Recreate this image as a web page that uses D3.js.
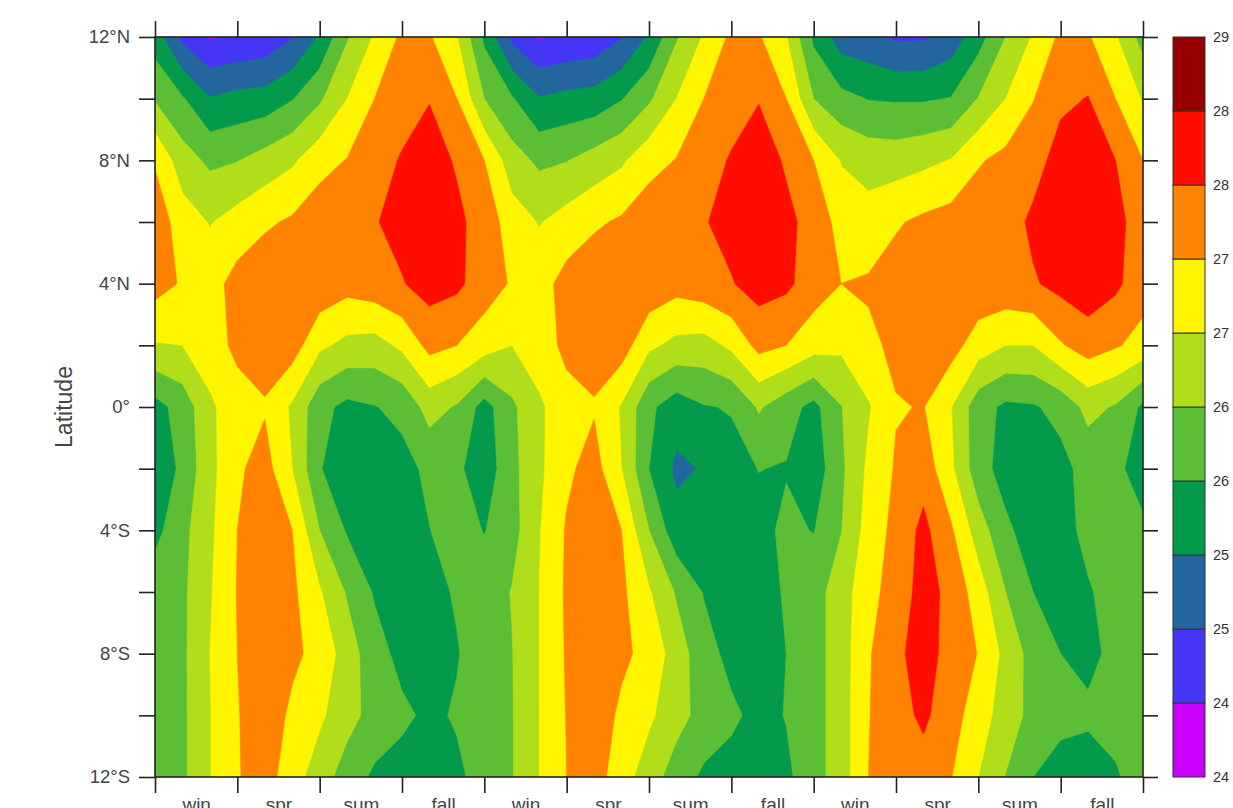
<!DOCTYPE html>
<html><head><meta charset="utf-8">
<script src="https://cdn.jsdelivr.net/npm/d3@7"></script>
<style>
html,body{margin:0;padding:0;background:#fff;}
svg{display:block;}
text{font-family:"Liberation Sans", Arial, sans-serif;}
</style></head><body>
<svg id="chart" width="1233" height="808"></svg>
<script>
// ---------------- DATA ----------------
// latitude rows (12N -> 12S) and monthly columns (0..36, three years)
const latitudes = [12, 10, 8, 6, 4, 2, 0, -2, -4, -6, -8, -10, -12];
const months = [0,1,2,3,4,5,6,7,8,9,10,11,12,13,14,15,16,17,18,19,20,21,22,23,24,25,26,27,28,29,30,31,32,33,34,35,36];
const seasonTicks = [0,3,6,9,12,15,18,21,24,27,30,33,36];
const seasonLabels = ["win","spr","sum","fall","win","spr","sum","fall","win","spr","sum","fall"];
const levels = [24, 24.5, 25, 25.5, 26, 26.5, 27, 27.5, 28, 28.5, 29];
const bandColors = ["#CB00FC","#4536F6","#23669F","#039A4B","#5BBE34","#B1DE1B","#FFF500","#FF8200","#FF0E00","#960000"];

// SST values (deg C) per latitude row, one value per month column
const sst12N = [25.75,24.88,24.45,24.56,24.64,24.97,25.56,26.45,27.05,27.6,27.55,27.02,25.9, 24.88,24.45,24.56,24.64,24.97,25.56,26.45,27.05,27.6,27.55,27.02,25.9, 25.25,25.15,24.92,24.94,25.2,25.8,26.5,27.05,27.6,27.55,27.05,26.3];
const sst10N = [26.45,26.05,25.53,25.65,25.7,25.97,26.42,27.0,27.5,27.75,27.98,27.5,26.5, 26.05,25.53,25.65,25.7,25.97,26.42,27.0,27.5,27.75,27.98,27.5,26.5, 26.15,25.98,25.95,25.95,26.02,26.52,27.0,27.48,27.9,28.02,27.5,26.95];
const sst8N  = [27.45,26.72,26.4,26.48,26.7,26.92,27.32,27.52,27.75,28.05,28.2,27.95,27.5, 26.72,26.4,26.48,26.7,26.92,27.32,27.52,27.75,28.05,28.2,27.95,27.5, 26.97,26.8,26.77,26.88,27.02,27.45,27.64,27.8,28.2,28.25,28.0,27.5];
const sst6N  = [27.8,27.25,26.97,27.2,27.42,27.57,27.8,27.75,27.97,28.15,28.25,28.1,27.8, 27.25,26.97,27.2,27.42,27.57,27.8,27.75,27.97,28.15,28.25,28.1,27.85, 27.3,27.2,27.45,27.6,27.71,27.8,27.77,28.1,28.3,28.35,28.15,27.75];
const sst4N  = [27.7,27.45,27.3,27.68,27.85,27.75,27.85,27.68,27.8,27.97,28.2,28.1,27.75, 27.45,27.3,27.68,27.85,27.75,27.85,27.68,27.8,27.97,28.2,28.1,27.75, 27.5,27.56,27.7,27.75,27.8,27.85,27.85,27.95,28.15,28.3,28.1,27.7];
const sst2N  = [26.96,27.0,27.3,27.6,27.75,27.74,27.1,26.86,26.8,27.1,27.65,27.5,27.23, 27.0,27.3,27.6,27.75,27.74,27.1,26.86,26.8,27.1,27.65,27.5,27.2, 27.1,27.4,27.6,27.7,27.7,27.25,27.0,27.0,27.45,27.74,27.55,27.33];
const sstEq  = [25.82,26.2,26.9,27.31,27.45,26.92,26.15,25.87,25.98,26.12,26.7,26.45,25.8, 26.4,26.9,27.35,27.45,26.95,26.1,25.73,25.97,26.03,26.56,26.2,25.85, 26.48,26.95,27.47,27.52,27.02,26.2,25.9,25.95,26.15,26.65,26.45,25.9];
const sst2S  = [25.6,26.12,26.85,27.42,27.7,27.0,26.03,25.7,25.75,25.85,26.1,26.1,25.7, 26.35,26.9,27.4,27.7,27.0,26.0,25.4,25.54,25.85,26.01,25.97,25.7, 26.4,27.1,27.55,27.79,27.1,26.2,25.8,25.75,25.85,26.18,26.1,25.8];
const sst4S  = [25.85,26.35,26.9,27.5,27.8,27.5,26.5,25.95,25.7,25.8,25.99,26.2,25.98, 26.3,26.97,27.55,27.8,27.5,26.5,25.69,25.7,25.8,25.85,26.1,25.98, 26.48,27.2,27.65,28.13,27.57,26.75,26.1,25.75,25.8,26.15,26.2,26.08];
const sst6S  = [26.3,26.4,26.95,27.52,27.85,27.6,27.05,26.45,25.95,25.75,25.85,26.05,26.25, 26.52,27.0,27.57,27.85,27.6,27.05,26.45,25.97,25.75,25.8,26.05,26.3, 26.75,27.35,27.7,28.2,27.86,27.25,26.5,26.0,25.7,25.95,26.2,26.25];
const sst8S  = [26.3,26.4,27.0,27.5,27.85,27.6,27.35,26.75,26.2,25.85,25.85,25.97,26.25, 26.48,27.0,27.55,27.85,27.6,27.35,26.75,26.2,25.85,25.8,26.0,26.3, 26.75,27.45,27.9,28.2,27.83,27.48,26.85,26.3,26.0,25.9,26.1,26.2];
const sst10S = [26.25,26.4,26.98,27.47,27.8,27.4,27.1,26.65,26.35,26.1,25.9,26.05,26.2, 26.47,27.0,27.52,27.8,27.4,27.1,26.65,26.35,26.1,25.85,26.02,26.3, 26.75,27.48,27.8,28.1,27.7,27.25,26.75,26.35,26.1,26.07,26.15,26.2];
const sst12S = [26.2,26.4,26.98,27.47,27.7,27.25,26.7,26.3,25.9,25.8,25.8,25.9,26.2, 26.47,27.0,27.5,27.7,27.25,26.7,26.3,25.9,25.8,25.75,25.9,26.3, 26.75,27.5,27.75,27.77,27.52,27.0,26.48,26.0,25.85,25.8,25.95,26.2];

// ---------------- CHART ----------------
const grid = [sst12N, sst10N, sst8N, sst6N, sst4N, sst2N, sstEq, sst2S, sst4S, sst6S, sst8S, sst10S, sst12S];
const nx = months.length, ny = latitudes.length;
const values = grid.flat();

const X0 = 155, X1 = 1143, Y0 = 37, Y1 = 777;
const x = d3.scaleLinear().domain([months[0], months[nx - 1]]).range([X0, X1]);
const y = d3.scaleLinear().domain([latitudes[0], latitudes[ny - 1]]).range([Y0, Y1]);

const svg = d3.select("#chart");
svg.append("defs").append("clipPath").attr("id", "plotclip")
  .append("rect").attr("x", X0).attr("y", Y0).attr("width", X1 - X0).attr("height", Y1 - Y0);

const plot = svg.append("g").attr("clip-path", "url(#plotclip)");
plot.append("rect").attr("x", X0).attr("y", Y0).attr("width", X1 - X0).attr("height", Y1 - Y0)
  .attr("fill", bandColors[0]);

// grid coords: value i sits at i+0.5
const proj = d3.geoTransform({
  point: function(gx, gy) {
    const m = months[0] + (gx - 0.5) * (months[1] - months[0]);
    const lat = latitudes[0] + (gy - 0.5) * (latitudes[1] - latitudes[0]);
    this.stream.point(x(m), y(lat));
  }
});
const path = d3.geoPath(proj);
const thresholds = levels.slice(1, levels.length - 1);
const contours = d3.contours().size([nx, ny]).thresholds(thresholds)(values);
plot.selectAll("path.band").data(contours).join("path")
  .attr("class", "band")
  .attr("d", path)
  .attr("fill", (d, i) => bandColors[i + 1])
  .attr("stroke", (d, i) => bandColors[i + 1])
  .attr("stroke-width", 0.6);

// frame
svg.append("rect").attr("x", X0).attr("y", Y0).attr("width", X1 - X0).attr("height", Y1 - Y0)
  .attr("fill", "none").attr("stroke", "#222").attr("stroke-width", 1.6);

const fmtLat = d => d > 0 ? d + "°N" : (d < 0 ? (-d) + "°S" : "0°");
function styleAxis(g) {
  g.select(".domain").remove();
  g.selectAll(".tick line").attr("stroke", "#222").attr("stroke-width", 1.6);
  g.selectAll(".tick text").attr("fill", "#444").style("font-size", "18.5px")
    .style("font-family", "Liberation Sans, Arial, sans-serif");
}
svg.append("g").attr("transform", `translate(${X0},0)`)
  .call(d3.axisLeft(y).tickValues(latitudes).tickSize(16).tickPadding(9)
    .tickFormat(d => (d % 4 === 0) ? fmtLat(d) : ""))
  .call(styleAxis);
svg.append("g").attr("transform", `translate(${X1},0)`)
  .call(d3.axisRight(y).tickValues(latitudes).tickSize(15).tickFormat(""))
  .call(styleAxis);
svg.append("g").attr("transform", `translate(0,${Y0})`)
  .call(d3.axisTop(x).tickValues(seasonTicks).tickSize(16).tickFormat(""))
  .call(styleAxis);
svg.append("g").attr("transform", `translate(0,${Y1})`)
  .call(d3.axisBottom(x).tickValues(seasonTicks).tickSize(16).tickFormat(""))
  .call(styleAxis);
// season labels centred in each season
const mids = seasonLabels.map((s, i) => (seasonTicks[i] + seasonTicks[i + 1]) / 2);
svg.append("g").attr("transform", `translate(0,${Y1})`)
  .call(d3.axisBottom(x).tickValues(mids).tickSize(0).tickPadding(21)
    .tickFormat((d, i) => seasonLabels[i]))
  .call(g => {
    g.select(".domain").remove();
    g.selectAll(".tick text").attr("fill", "#444").style("font-size", "19px")
      .style("font-family", "Liberation Sans, Arial, sans-serif");
  });

// y title
svg.append("text").attr("transform", "translate(72,407) rotate(-90)")
  .attr("text-anchor", "middle").attr("fill", "#444")
  .style("font-size", "23px").text("Latitude");

// colour bar
const cb = d3.scaleLinear().domain([levels[0], levels[levels.length - 1]]).range([777, 37]);
const cbx = 1173, cbw = 32;
svg.append("g").selectAll("rect").data(levels.slice(0, -1)).join("rect")
  .attr("x", cbx).attr("width", cbw)
  .attr("y", (d, i) => cb(levels[i + 1]))
  .attr("height", (d, i) => cb(d) - cb(levels[i + 1]))
  .attr("fill", (d, i) => bandColors[i])
  .attr("stroke", "#333").attr("stroke-width", 1);
svg.append("g").selectAll("text").data(levels).join("text")
  .attr("x", 1213).attr("y", d => cb(d)).attr("dy", "0.36em")
  .attr("fill", "#333").style("font-size", "14.5px")
  .text(d => Math.floor(d));
</script>
</body></html>
